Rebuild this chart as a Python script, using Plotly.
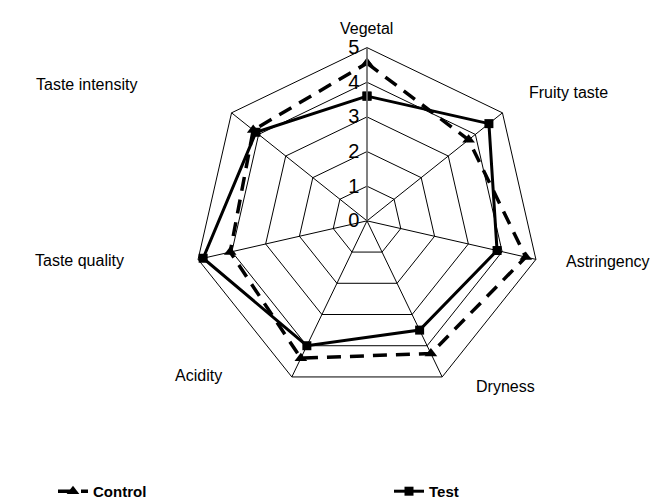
import plotly.graph_objects as go

categories = ["Vegetal", "Fruity taste", "Astringency", "Dryness", "Acidity", "Taste quality", "Taste intensity"]
control = [4.55, 3.75, 4.7, 4.25, 4.4, 4.05, 4.2]
test = [3.6, 4.5, 3.85, 3.5, 4.0, 4.85, 4.1]
radial_ticks = [0, 1, 2, 3, 4, 5]
radial_ticktext = ["0", "1", "2", "3", "4", "5"]

# label placement (paper coords) for category names
label_pos = [(359, 21), (560, 85), (600, 256), (497, 382), (190, 371), (71, 255), (78, 77)]

W, H = 659, 500
cx, cy, R = 359, 215, 175

fig = go.Figure()
fig.add_trace(go.Scatterpolar(
    r=control + control[:1], theta=categories + categories[:1], name="<b>Control</b>",
    mode="lines+markers", legend="legend",
    line=dict(color="black", width=3.5, dash="14px,9px"),
    marker=dict(symbol="triangle-up", size=11, color="black"),
))
fig.add_trace(go.Scatterpolar(
    r=test + test[:1], theta=categories + categories[:1], name="<b>Test</b>",
    mode="lines+markers", legend="legend2",
    line=dict(color="black", width=3),
    marker=dict(symbol="square", size=9, color="black"),
))

annotations = []
for name, (px, py) in zip(categories, label_pos):
    annotations.append(dict(text=name, x=px / W, y=1 - py / H, xref="paper", yref="paper",
                            showarrow=False, xanchor="center", yanchor="middle",
                            font=dict(family="Arial, Liberation Sans", size=16, color="black")))

legend_font = dict(size=15, family="Arial, Liberation Sans", color="black")

fig.update_layout(
    width=W, height=H,
    margin=dict(l=0, r=0, t=0, b=0),
    paper_bgcolor="white",
    font=dict(family="Arial, Liberation Sans", color="black"),
    polar=dict(
        domain=dict(x=[(cx - R) / W, (cx + R) / W], y=[1 - (cy + R) / H, 1 - (cy - R) / H]),
        bgcolor="white",
        gridshape="linear",
        radialaxis=dict(range=[0, 5], tickvals=radial_ticks, ticktext=radial_ticktext,
                        angle=90, tickangle=90,
                        showline=True, linecolor="#808080", linewidth=1.5,
                        gridcolor="black", gridwidth=1, ticks="",
                        tickfont=dict(size=20, color="black", family="Arial, Liberation Sans"),
                        side="counterclockwise"),
        angularaxis=dict(direction="clockwise", rotation=90, showticklabels=False,
                         showline=True, linecolor="black", linewidth=1,
                         gridcolor="black", gridwidth=1, ticks=""),
    ),
    showlegend=True,
    legend=dict(orientation="h", x=45 / W, y=-0.01, xanchor="left", yanchor="bottom",
                font=legend_font),
    legend2=dict(orientation="h", x=381 / W, y=-0.01, xanchor="left", yanchor="bottom",
                 font=legend_font),
    annotations=annotations,
)

fig.write_html("out.html")
